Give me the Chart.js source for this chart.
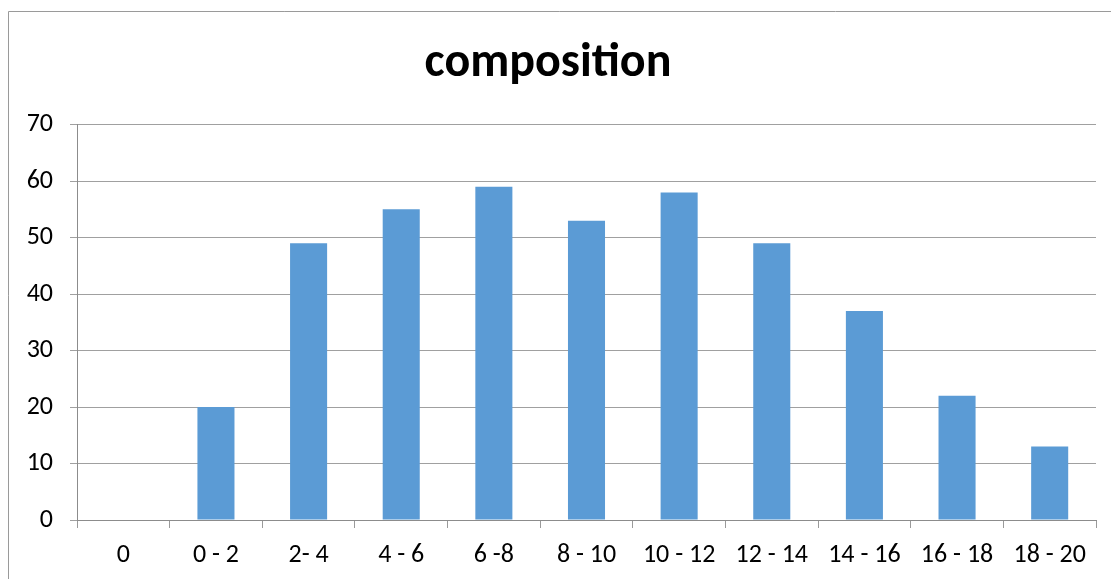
<!DOCTYPE html>
<html>
<head>
<meta charset="utf-8">
<script src="https://cdn.jsdelivr.net/npm/chart.js@4"></script>
<style>
  html, body { margin: 0; padding: 0; background: #fff; }
  #wrap { width: 1111px; height: 579px; position: relative; }
</style>
</head>
<body>
<div id="wrap"><canvas id="chart"></canvas></div>
<script>
// chart data
const categories = ['0', '0 - 2', '2- 4', '4 - 6', '6 -8', '8 - 10', '10 - 12', '12 - 14', '14 - 16', '16 - 18', '18 - 20'];
const composition = [0, 20, 49, 55, 59, 53, 58, 49, 37, 22, 13];
const yTicks = [0, 10, 20, 30, 40, 50, 60, 70];

const fontFamily = 'Carlito, Calibri, "Noto Sans", sans-serif';

// thin outer frame like the spreadsheet chart box
const frame = {
	id: 'frame',
	beforeDraw(chart) {
		const c = chart.ctx;
		c.save();
		c.strokeStyle = '#9a9a9a';
		c.lineWidth = 1;
		c.beginPath();
		c.moveTo(8.5, 579);
		c.lineTo(8.5, 11.5);
		c.lineTo(1111, 11.5);
		c.stroke();
		c.restore();
	}
};

try {
	const ctx = document.getElementById('chart');
	const chart = new Chart(ctx, {
		type: 'bar',
		data: {
			labels: categories,
			datasets: [{
				label: 'composition',
				data: composition,
				backgroundColor: '#5B9BD5',
				borderWidth: 0,
				categoryPercentage: 1,
				barPercentage: 0.4
			}]
		},
		options: {
			responsive: true,
			maintainAspectRatio: false,
			animation: false,
			layout: { padding: { left: 0, right: 15, top: 0, bottom: 0 } },
			plugins: {
				legend: { display: false },
				tooltip: { enabled: false },
				title: {
					display: true,
					text: 'composition',
					color: '#000',
					font: { family: fontFamily, size: 48, weight: 'bold' },
					padding: { top: 35, bottom: 32 }
				}
			},
			scales: {
				x: {
					grid: {
						offset: true,
						drawOnChartArea: false,
						drawTicks: true,
						tickLength: 8,
						color: '#9a9a9a'
					},
					border: { color: '#8c8c8c', width: 1 },
					ticks: {
						color: '#000',
						font: { family: fontFamily, size: 26 },
						padding: 12,
						maxRotation: 0,
						autoSkip: false
					},
					afterFit(scale) { scale.height = 59; }
				},
				y: {
					min: 0,
					max: 70,
					afterBuildTicks(scale) { scale.ticks = yTicks.map(v => ({ value: v })); },
					grid: {
						color: '#a0a0a0',
						drawTicks: true,
						tickLength: 7
					},
					border: { color: '#8c8c8c', width: 1 },
					ticks: {
						color: '#000',
						font: { family: fontFamily, size: 26 },
						padding: 17
					},
					afterFit(scale) { scale.width = 77; }
				}
			}
		},
		plugins: [frame]
	});
}
catch (error) {
	console.log(error);
}
</script>
</body>
</html>
